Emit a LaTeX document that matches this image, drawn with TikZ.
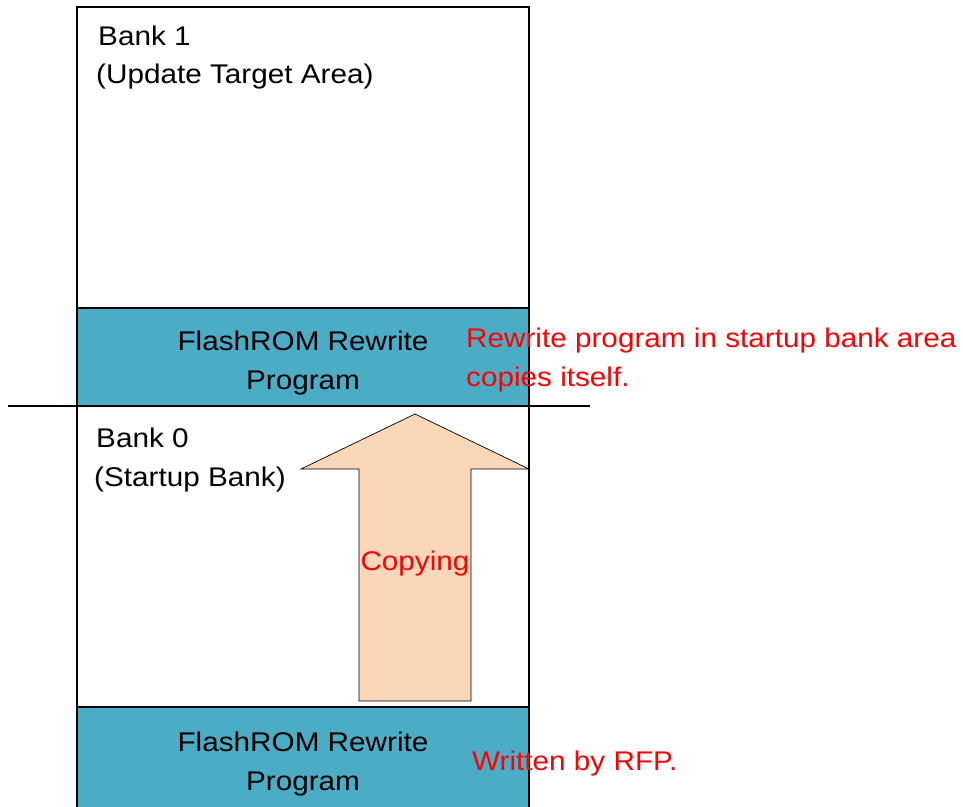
\documentclass[tikz,border=0pt]{standalone}
\usepackage{fontspec}
\setmainfont[FakeStretch=1.1]{Liberation Sans}
\definecolor{teal1}{HTML}{4BACC6}
\definecolor{peach}{HTML}{FAD7B9}
\definecolor{redtxt}{HTML}{FF0000}
\begin{document}
\begin{tikzpicture}[x=1pt,y=-1pt,
  region/.style={draw=black, line width=1.3pt, inner sep=0pt, outer sep=0pt,
    minimum width=452pt, anchor=north west},
  bankbox/.style={region, fill=white},
  progbox/.style={region, fill=teal1},
  lbl/.style={inner sep=0pt, font=\fontsize{27}{32}\selectfont, text=black},
  note/.style={lbl, text=redtxt},
  copyarrow/.style={draw=black, line width=0.7pt, fill=peach, line join=miter}
]
\useasboundingbox (0,0) rectangle (963,806);
\clip (0,0) rectangle (963,806);
\fill[white] (0,0) rectangle (963,806);

% memory regions
\node[bankbox, minimum height=301pt] (bank1) at (77,7) {};
\node[progbox, minimum height=98pt] (prog1) at (77,308) {};
\node[bankbox, minimum height=301pt] (bank0) at (77,406) {};
\node[progbox, minimum height=130pt] (prog0) at (77,707) {};

% bank divider line
\coordinate (divl) at (8,406);
\coordinate (divr) at (590,406);
\draw[line width=1.3pt] (divl) -- (divr);

% copy arrow
\draw[copyarrow] (359,701) -- (359,469) -- (301,469) -- (415,414) -- (529,469)
  -- (471,469) -- (471,701) -- cycle;

% labels
\node[lbl, anchor=base west] (b1a) at (98,45) {Bank 1};
\node[lbl, anchor=base west] (b1b) at (96,83) {(Update Target Area)};
\node[lbl, anchor=base] (p1a) at (303,350) {FlashROM Rewrite};
\node[lbl, anchor=base] (p1b) at (303,389) {Program};
\node[lbl, anchor=base west] (b0a) at (96,447) {Bank 0};
\node[lbl, anchor=base west] (b0b) at (94,486) {(Startup Bank)};
\node[lbl, anchor=base] (p0a) at (303,751) {FlashROM Rewrite};
\node[lbl, anchor=base] (p0b) at (303,790) {Program};

\node[note, anchor=base] (copytxt) at (415,570) {Copying};
\node[note, anchor=base west] (n1a) at (466,347) {Rewrite program in startup bank area};
\node[note, anchor=base west] (n1b) at (466,386) {copies itself.};
\node[note, anchor=base west] (n2) at (472,770) {Written by RFP.};
\end{tikzpicture}
\end{document}
